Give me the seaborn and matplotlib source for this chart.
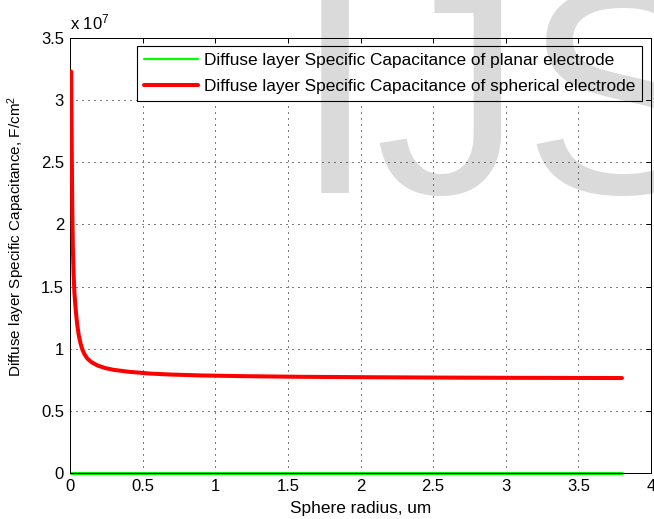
import matplotlib
matplotlib.use("Agg")
import matplotlib.pyplot as plt
from matplotlib.ticker import FixedLocator, FuncFormatter
import pandas as pd
import seaborn as sns

# Sphere radius (um) and diffuse-layer specific capacitance (F/cm^2)
radius_um = [0.008, 0.012, 0.016, 0.020, 0.025, 0.030, 0.036, 0.042, 0.050,
             0.060, 0.070, 0.083, 0.100, 0.120, 0.150, 0.190, 0.240, 0.300,
             0.400, 0.550, 0.700, 0.900, 1.20, 1.60, 2.00, 2.50, 3.00, 3.40,
             3.80]
spherical_cap = [3.23e7, 2.60e7, 2.10e7, 1.80e7, 1.60e7, 1.46e7, 1.36e7,
                 1.28e7, 1.19e7, 1.11e7, 1.055e7, 1.00e7, 0.955e7, 0.920e7,
                 0.890e7, 0.865e7, 0.845e7, 0.830e7, 0.815e7, 0.800e7,
                 0.792e7, 0.785e7, 0.779e7, 0.774e7, 0.771e7, 0.768e7,
                 0.766e7, 0.765e7, 0.764e7]
planar_radius_um = [0.008, 3.80]
planar_cap = [0.0, 0.0]

x_ticks = [0, 0.5, 1, 1.5, 2, 2.5, 3, 3.5, 4]
y_ticks = [0, 0.5e7, 1.0e7, 1.5e7, 2.0e7, 2.5e7, 3.0e7, 3.5e7]
planar_label = "Diffuse layer Specific Capacitance of planar electrode"
spherical_label = "Diffuse layer Specific Capacitance of spherical electrode"

sns.set_theme(style="white")
plt.rcParams.update({
    "font.family": ["Liberation Sans", "DejaVu Sans"],
    "font.size": 12,
    "mathtext.fontset": "custom",
    "mathtext.rm": "Liberation Sans",
    "mathtext.it": "Liberation Sans",
    "text.color": "black",
    "axes.labelcolor": "black",
    "xtick.color": "black",
    "ytick.color": "black",
})

planar_df = pd.DataFrame({"radius": planar_radius_um, "cap": planar_cap})
spherical_df = pd.DataFrame({"radius": radius_um, "cap": spherical_cap})

W, H = 654, 519
fig = plt.figure(figsize=(W / 100, H / 100), dpi=100)
ax = fig.add_axes([70 / W, 46 / H, 581 / W, 435 / H])

sns.lineplot(data=planar_df, x="radius", y="cap", ax=ax, color="#00ee00",
             lw=2.2, label=planar_label, estimator=None, sort=False,
             clip_on=False, zorder=2)
sns.lineplot(data=spherical_df, x="radius", y="cap", ax=ax, color="red",
             lw=2.9, label=spherical_label, estimator=None, sort=False,
             zorder=3)

ax.set_xlim(0, 4)
ax.set_ylim(0, 3.5e7)
ax.xaxis.set_major_locator(FixedLocator(x_ticks))
ax.yaxis.set_major_locator(FixedLocator(y_ticks))
ax.xaxis.set_major_formatter(FuncFormatter(lambda v, p: f"{v:g}"))
ax.yaxis.set_major_formatter(FuncFormatter(lambda v, p: f"{v / 1e7:g}"))

ax.grid(True, color="black", linestyle=(0, (1, 5)), linewidth=0.72)
ax.tick_params(direction="in", length=3.6, width=0.72, top=True, right=True,
               labelsize=12, pad=4.3)
for s in ax.spines.values():
    s.set_color("black")
    s.set_linewidth(0.72)
    s.set_zorder(2.5)

ax.set_xlabel("Sphere radius, um", fontsize=12.4)
ax.set_ylabel("Diffuse layer Specific Capacitance, F/cm$^2$", fontsize=11)
ax.xaxis.set_label_coords(0.5, -0.064)
ax.yaxis.set_label_coords(-0.074, 0.543)

ax.text(0.0, 1.012, r"x 10$^{7}$", transform=ax.transAxes, ha="left",
        va="bottom", fontsize=12)

leg = ax.legend(loc="upper right", bbox_to_anchor=(1 - 9 / 581, 1 - 8 / 435),
                borderaxespad=0, fancybox=False, framealpha=1,
                edgecolor="black", handlelength=3.14, handletextpad=0.34,
                borderpad=0.4, labelspacing=0.62, fontsize=12.4)
leg.get_frame().set_linewidth(0.8)
for line in leg.get_lines():
    if line.get_color() == "red":
        line.set_linewidth(2.9)
    else:
        line.set_linewidth(1.6)
        line.set_color("#00ff00")

# Journal watermark laid over the upper part of the figure
fig.text(293.4 / W, 1 - 193 / H, "IJS", fontsize=213, family="Liberation Sans",
         color="black", alpha=0.145, ha="left", va="baseline", zorder=10)

fig.savefig("out.png", dpi=100)
